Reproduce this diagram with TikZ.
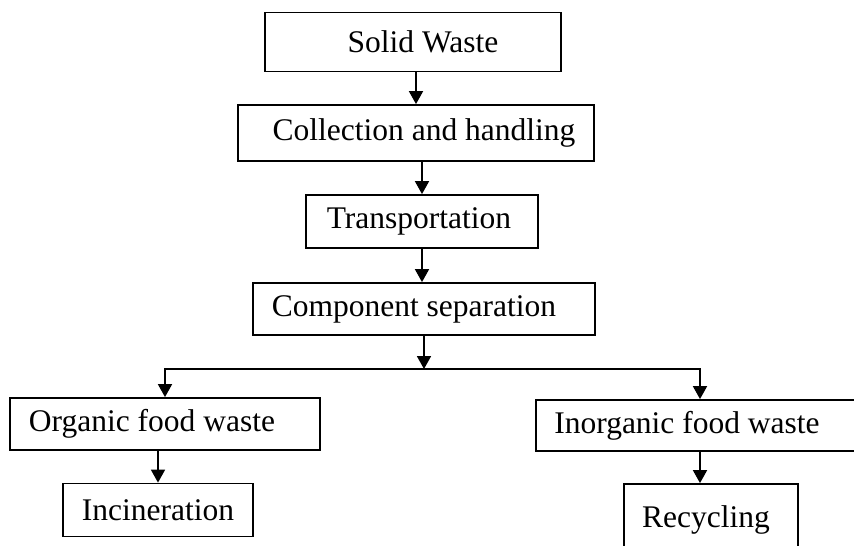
\documentclass[tikz,border=0pt]{standalone}
\usepackage{fontspec}
\setmainfont{Liberation Serif}
\usetikzlibrary{arrows.meta}

\begin{document}
\begin{tikzpicture}[x=1pt, y=-1pt, line width=1.8pt, >={Triangle[length=13pt,width=14pt]}]
		\useasboundingbox (0,0) rectangle (854,546);
		\clip (0,0) rectangle (854,546);
		\tikzstyle{every node} = [draw, rectangle, inner sep=0pt, font=\fontsize{31.5}{36}\selectfont]
		\node[minimum width=296pt, minimum height=59pt] (sw) at (413, 42) {\hspace*{20pt}Solid Waste};
		\node[minimum width=356pt, minimum height=56pt] (ch) at (416, 133) {\hspace*{16pt}Collection and handling};
		\node[minimum width=232pt, minimum height=53pt] (tr) at (422, 221.5) {Transportation\hspace*{6pt}};
		\node[minimum width=342pt, minimum height=52pt] (cs) at (424, 309) {Component separation\hspace*{20pt}};
		\node[minimum width=310pt, minimum height=52pt] (of) at (165, 424) {Organic food waste\hspace*{26pt}};
		\node[minimum width=328pt, minimum height=51pt] (if) at (700, 425.5) {Inorganic food waste\hspace*{26pt}};
		\node[minimum width=190pt, minimum height=53pt] (inc) at (158, 510) {Incineration};
		\node[minimum width=174pt, minimum height=72pt] (rec) at (711, 520) {Recycling\hspace*{10pt}};

		\coordinate (split) at (424, 369);
		\draw [->] (ch.north |- sw.south) -- (ch.north);
		\draw [->] (tr.north |- ch.south) -- (tr.north);
		\draw [->] (tr.south) -- (tr.south |- cs.north);
		\draw [->] (cs.south) -- (split);
		\draw [->] (split) -| (of.north);
		\draw [->] (split) -| (if.north);
		\draw [->] (inc.north |- of.south) -- (inc.north);
		\draw [->] (if.south) -- (if.south |- rec.north);
\end{tikzpicture}
\end{document}
